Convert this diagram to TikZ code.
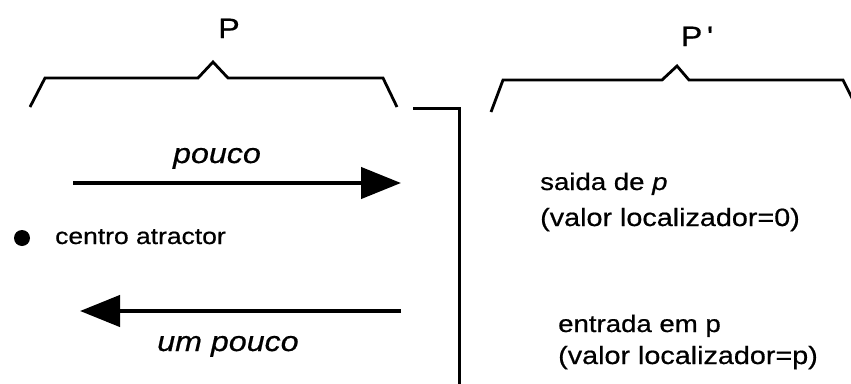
\documentclass[tikz,border=0pt]{standalone}
\usepackage{fontspec}
\setmainfont{Liberation Sans}
\newfontfamily\labfont[FakeStretch=1.15, FakeBold=0.6]{Liberation Sans}
\usetikzlibrary{arrows.meta}
\tikzset{
  brace/.style={line width=2.8pt, line join=miter},
  divider/.style={line width=3pt},
  flow/.style={line width=4.4pt, -{Triangle[length=40pt, width=31pt]}},
  lbl/.style={inner sep=0pt, font=\labfont},
}
\begin{document}
\begin{tikzpicture}[x=1pt, y=-1pt]
  \useasboundingbox (0,0) rectangle (851,383);

  % left brace (P)
  \draw[brace] (30,107) -- (45,78) -- (198,78) -- (213,62) -- (228,78)
               -- (383,78) -- (397,107);
  \node[lbl, font=\labfont\fontsize{28}{30}\selectfont, anchor=base] (P) at (229,38) {P};

  % right brace (P')
  \draw[brace] (491,112) -- (503,80) -- (662,80) -- (677,66) -- (689,80)
               -- (843,80) -- (853,100);
  \node[lbl, font=\labfont\fontsize{28}{30}\selectfont, anchor=base] (Pp) at (697,46) {P\,'};

  % divider between the two regions
  \coordinate (d0) at (413,108);
  \coordinate (d1) at (459,108);
  \coordinate (d2) at (459,390);
  \draw[divider] (d0) -- (d1) -- (d2);

  % flows
  \coordinate (a1s) at (73,183);
  \coordinate (a1e) at (401,183);
  \draw[flow] (a1s) -- (a1e);
  \node[lbl, font=\labfont\fontsize{28}{30}\selectfont\itshape, anchor=base] (pouco) at (217,163) {pouco};

  \coordinate (a2s) at (401,311);
  \coordinate (a2e) at (80,311);
  \draw[flow] (a2s) -- (a2e);
  \node[lbl, font=\labfont\fontsize{28}{30}\selectfont\itshape, anchor=base] (umpouco) at (228,351) {um pouco};

  % attractor
  \fill (22,238) circle (8pt);
  \node[lbl, font=\labfont\fontsize{23}{25}\selectfont, anchor=base west] (centro) at (55,244) {centro atractor};

  % annotations on the right
  \node[lbl, font=\labfont\fontsize{24}{26}\selectfont, anchor=base west] (saida) at (540,190) {saida de \textit{p}};
  \node[lbl, font=\labfont\fontsize{25}{27}\selectfont, anchor=base west] (val0) at (540,226) {(valor localizador=0)};
  \node[lbl, font=\labfont\fontsize{24}{26}\selectfont, anchor=base west] (entrada) at (558,332) {entrada em p};
  \node[lbl, font=\labfont\fontsize{25}{27}\selectfont, anchor=base west] (valp) at (558,364) {(valor localizador=p)};
\end{tikzpicture}
\end{document}
